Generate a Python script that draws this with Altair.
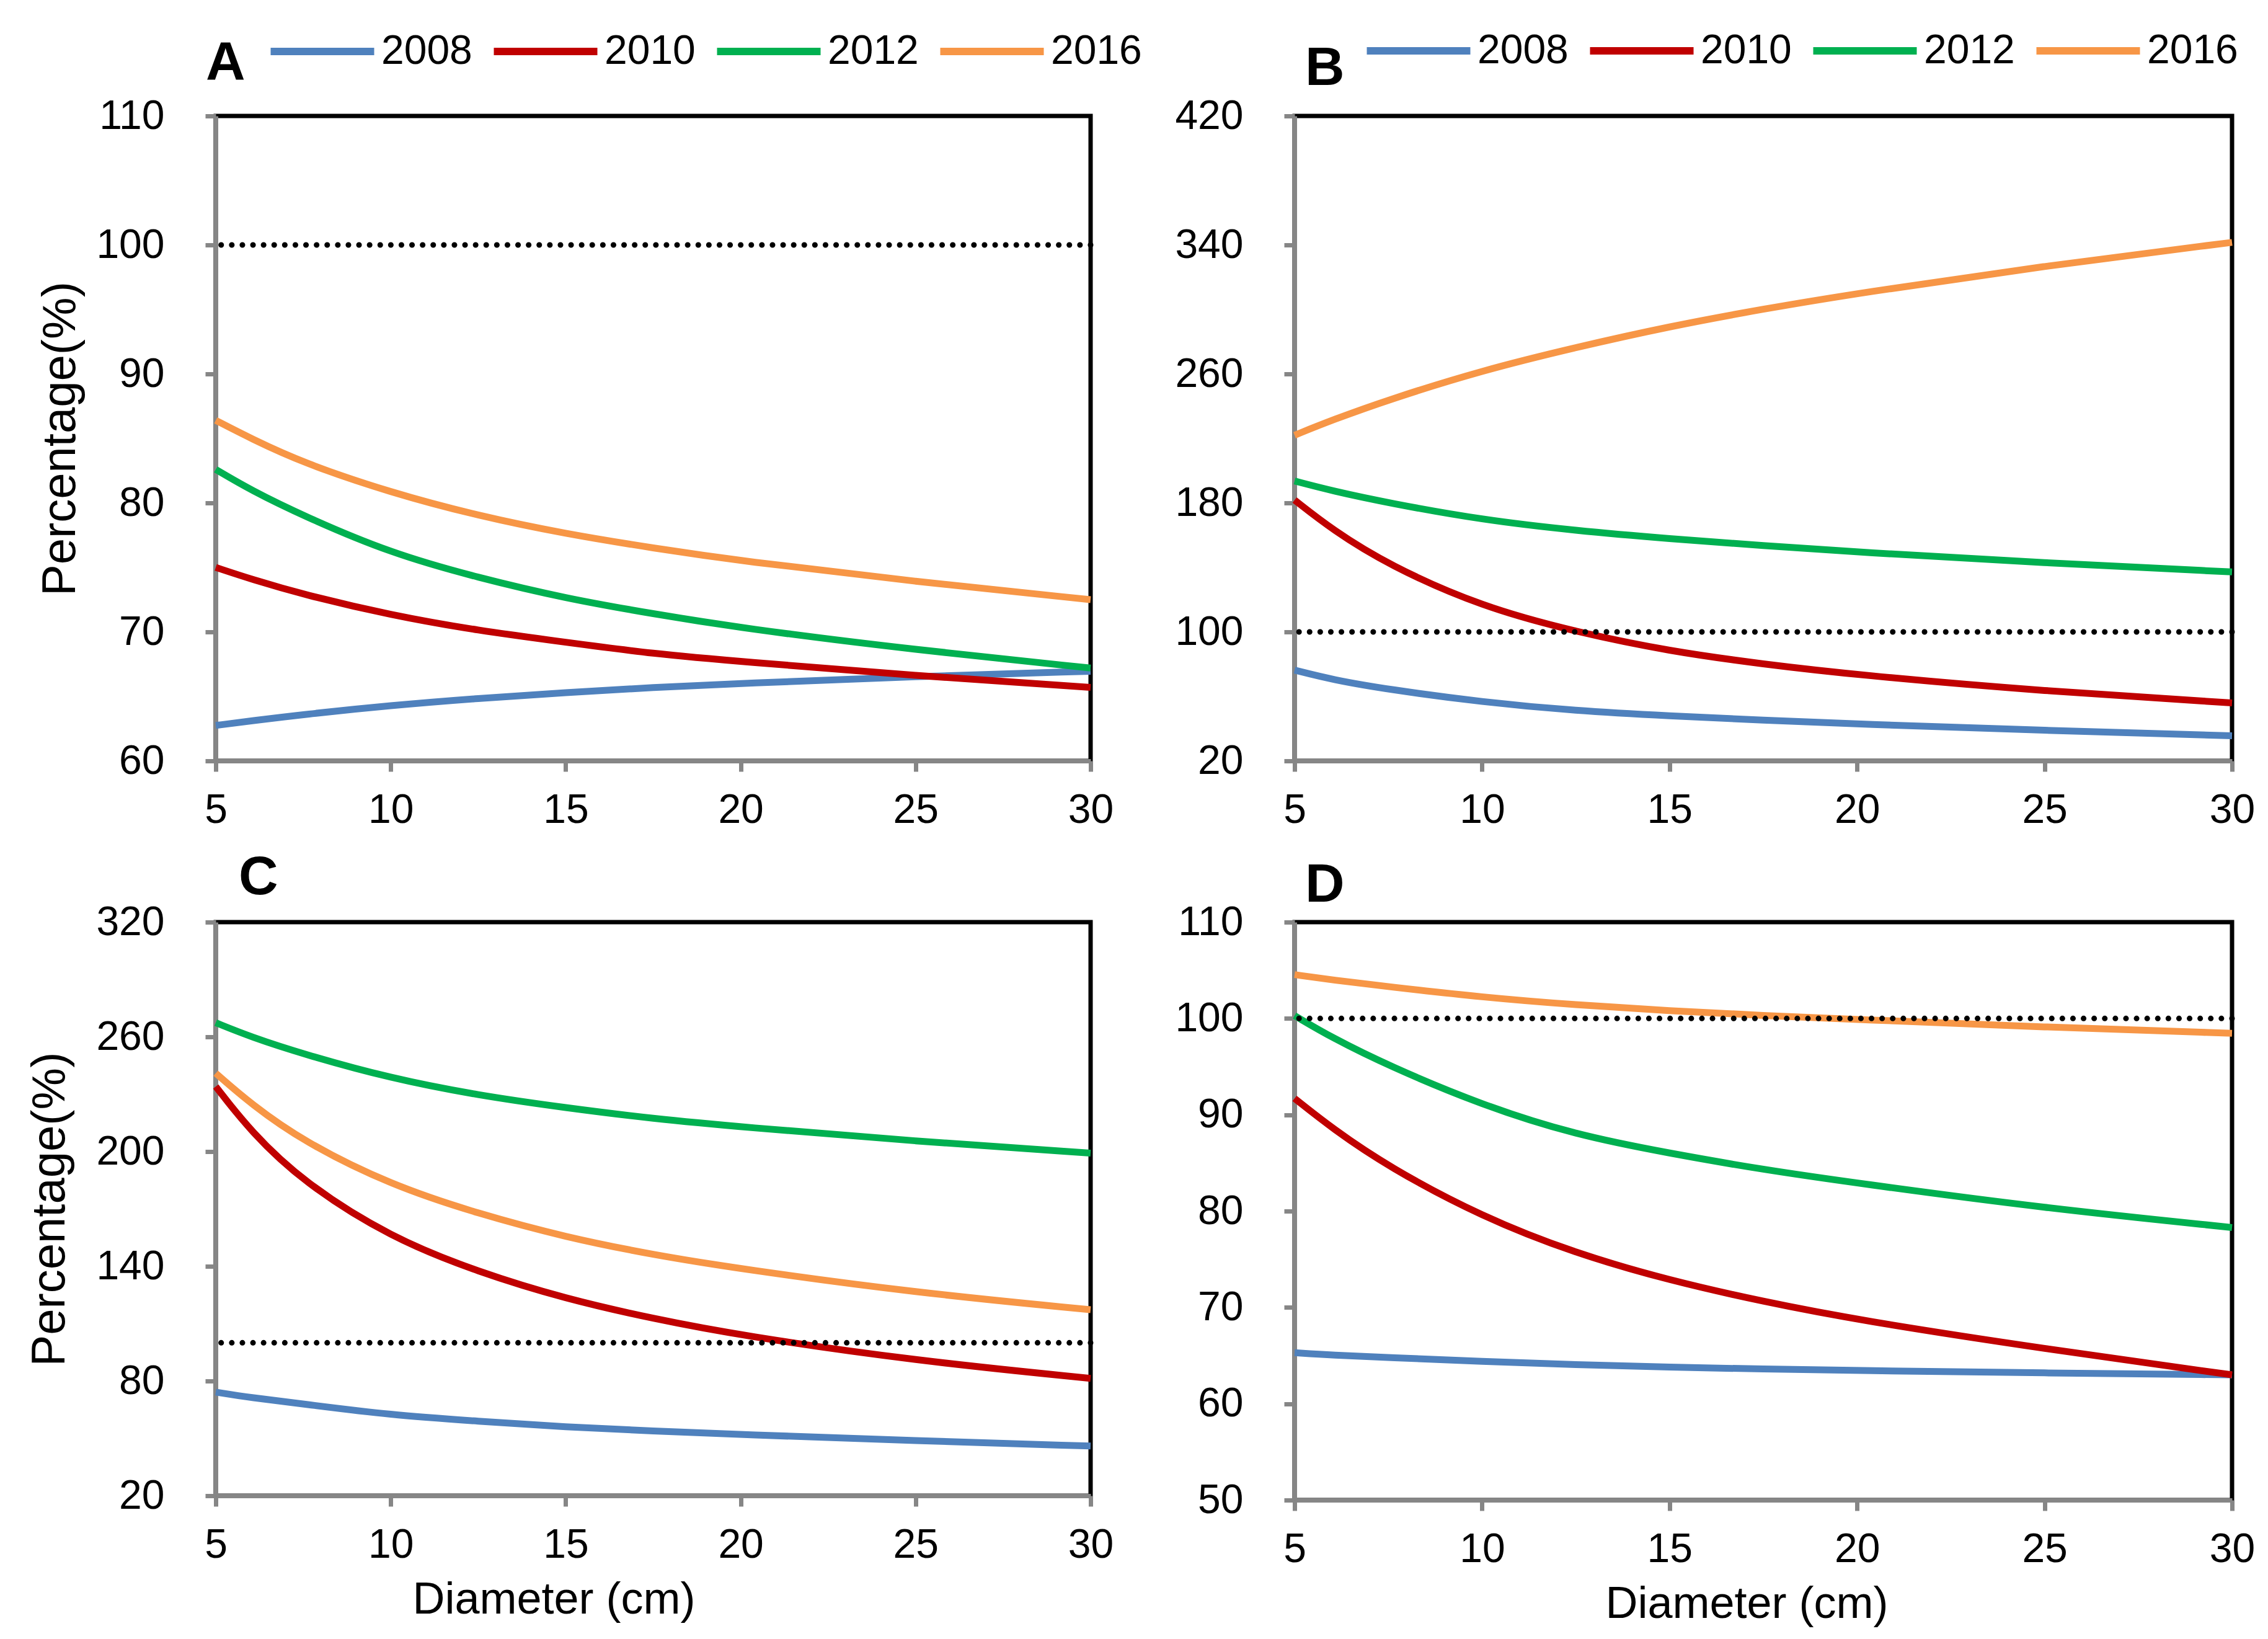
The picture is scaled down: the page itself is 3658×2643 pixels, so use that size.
import altair as alt
import pandas as pd

# ---------------- data ----------------
diameter = [5, 6, 7.5, 10, 12.5, 15, 17.5, 20, 25, 30]
years = ["2008", "2010", "2012", "2016"]
colors = ["#4F81BD", "#C00000", "#00B050", "#F79646"]

A_2008 = [62.75, 63.1, 63.6, 64.3, 64.85, 65.3, 65.7, 66.0, 66.55, 66.95]
A_2010 = [75.0, 74.1, 72.9, 71.3, 70.1, 69.2, 68.3, 67.7, 66.6, 65.7]
A_2012 = [82.6, 81.0, 79.0, 76.1, 74.2, 72.6, 71.4, 70.3, 68.6, 67.2]
A_2016 = [86.4, 85.0, 83.1, 80.8, 79.0, 77.6, 76.5, 75.5, 73.9, 72.5]

B_2008 = [76.3, 70.4, 64.3, 56.5, 51.0, 47.9, 45.3, 42.8, 38.9, 35.6]
B_2010 = [181.8, 163.5, 141.5, 115.5, 100.0, 88.0, 80.0, 73.3, 63.2, 56.0]
B_2012 = [193.6, 187.5, 180.0, 169.5, 162.8, 157.8, 153.5, 149.5, 142.8, 137.2]
B_2016 = [222.0, 231.4, 244.0, 262.2, 276.5, 289.5, 300.3, 310.0, 327.0, 341.6]

C_2008 = [74.2, 71.3, 68.0, 62.2, 59.0, 55.9, 53.9, 52.0, 48.8, 46.0]
C_2010 = [234.0, 210.5, 184.0, 155.0, 137.0, 123.0, 112.6, 103.8, 90.6, 81.4]
C_2012 = [267.4, 260.0, 251.0, 238.3, 229.4, 222.9, 217.2, 212.9, 205.4, 199.2]
C_2016 = [241.0, 225.0, 205.3, 182.5, 167.5, 155.2, 146.0, 138.6, 126.2, 117.3]

D_2008 = [65.3, 65.05, 64.8, 64.4, 64.05, 63.8, 63.6, 63.45, 63.2, 63.0]
D_2010 = [91.7, 88.6, 84.6, 79.4, 75.6, 72.8, 70.6, 68.7, 65.7, 63.0]
D_2012 = [100.3, 98.0, 95.1, 91.0, 87.9, 86.0, 84.3, 82.9, 80.3, 78.3]
D_2016 = [104.55, 104.0, 103.3, 102.2, 101.4, 100.8, 100.3, 99.9, 99.1, 98.46]

x_ticks = [5, 10, 15, 20, 25, 30]
A_ticks = [60, 70, 80, 90, 100, 110]
B_ticks = [20, 100, 180, 260, 340, 420]
C_ticks = [20, 80, 140, 200, 260, 320]
D_ticks = [50, 60, 70, 80, 90, 100, 110]
reference_level = [100]

FONT = "Liberation Sans, Arial, sans-serif"
GRAY = "#868686"


def to_frame(series):
    rows = []
    for yr, vals in zip(years, series):
        for d, v in zip(diameter, vals):
            rows.append({"Diameter": d, "Percentage": v, "Year": yr})
    return pd.DataFrame(rows)


def panel(series, letter, ticks, w, h, legend_xy=None, ytitle=None, ytitle_pad=30,
          xtitle=None, xtitle_x=None, letter_xy=(0, 0)):
    df = to_frame(series)
    if legend_xy is not None:
        legend = alt.Legend(
            orient="none", legendX=legend_xy[0], legendY=legend_xy[1],
            direction="horizontal", columns=4, title=None,
            symbolType="M-4,0H4", symbolSize=(167 / 4) ** 2, symbolStrokeWidth=12,
            labelFontSize=66, labelFont=FONT, labelColor="black",
            labelOffset=62, columnPadding=10, labelLimit=600, padding=0,
        )
    else:
        legend = None

    x_axis_kwargs = dict(values=x_ticks, title=xtitle)
    if xtitle is not None:
        x_axis_kwargs.update(titleFontSize=72, titleFont=FONT, titleFontWeight="normal",
                             titleColor="black", titlePadding=20,
                             titleX=xtitle_x, titleAnchor="start", titleAlign="center")
    y_axis_kwargs = dict(values=ticks, title=ytitle)
    if ytitle is not None:
        y_axis_kwargs.update(titleFontSize=76, titleFont=FONT, titleFontWeight="normal",
                             titleColor="black", titlePadding=ytitle_pad)

    lines = alt.Chart(df).mark_line(strokeWidth=11, interpolate="basis").encode(
        x=alt.X("Diameter:Q", scale=alt.Scale(domain=[5, 30], nice=False, zero=False),
                axis=alt.Axis(**x_axis_kwargs)),
        y=alt.Y("Percentage:Q", scale=alt.Scale(domain=[ticks[0], ticks[-1]], nice=False, zero=False),
                axis=alt.Axis(**y_axis_kwargs)),
        color=alt.Color("Year:N", scale=alt.Scale(domain=years, range=colors), legend=legend),
    )
    ref = alt.Chart(pd.DataFrame({"Percentage": reference_level})).mark_rule(
        color="black", strokeWidth=9, strokeDash=[0.1, 17], strokeCap="round"
    ).encode(y="Percentage:Q")
    tag = alt.Chart(pd.DataFrame({"tag": [letter]})).mark_text(
        font=FONT, fontSize=88, fontWeight="bold", color="black",
        align="left", baseline="alphabetic"
    ).encode(text="tag:N", x=alt.value(letter_xy[0]), y=alt.value(letter_xy[1]))
    return alt.layer(lines, ref, tag).properties(width=w, height=h)


pA = panel([A_2008, A_2010, A_2012, A_2016], "A", A_ticks, 1411, 1040,
           legend_xy=(139, -137), ytitle="Percentage(%)", ytitle_pad=18, letter_xy=(-16, -59))
pB = panel([B_2008, B_2010, B_2012, B_2016], "B", B_ticks, 1512, 1040,
           legend_xy=(167, -138), letter_xy=(17, -50))
pC = panel([C_2008, C_2010, C_2012, C_2016], "C", C_ticks, 1411, 925,
           ytitle="Percentage(%)", ytitle_pad=35, xtitle="Diameter (cm)", xtitle_x=545,
           letter_xy=(37, -45))
pD = panel([D_2008, D_2010, D_2012, D_2016], "D", D_ticks, 1512, 932,
           xtitle="Diameter (cm)", xtitle_x=729, letter_xy=(17, -33))

chart = alt.concat(
    pA, pB, pC, pD, columns=2, spacing={"row": 260, "column": 329}, bounds="flush"
).resolve_legend(
    color="independent"
).properties(
    padding={"left": 31, "top": 37, "right": 5, "bottom": 5}, background="white"
).configure_view(
    stroke="black", strokeWidth=7
).configure_axis(
    grid=False, domainColor=GRAY, domainWidth=7, tickColor=GRAY, tickWidth=7, tickSize=17,
    labelFont=FONT, labelFontSize=66, labelColor="black", labelFlush=False,
    labelOverlap=False, labelBound=False,
).configure_axisX(
    labelPadding=30
).configure_axisY(
    labelPadding=66
)

chart.save("out.html", embed_options={"renderer": "svg", "actions": False})
